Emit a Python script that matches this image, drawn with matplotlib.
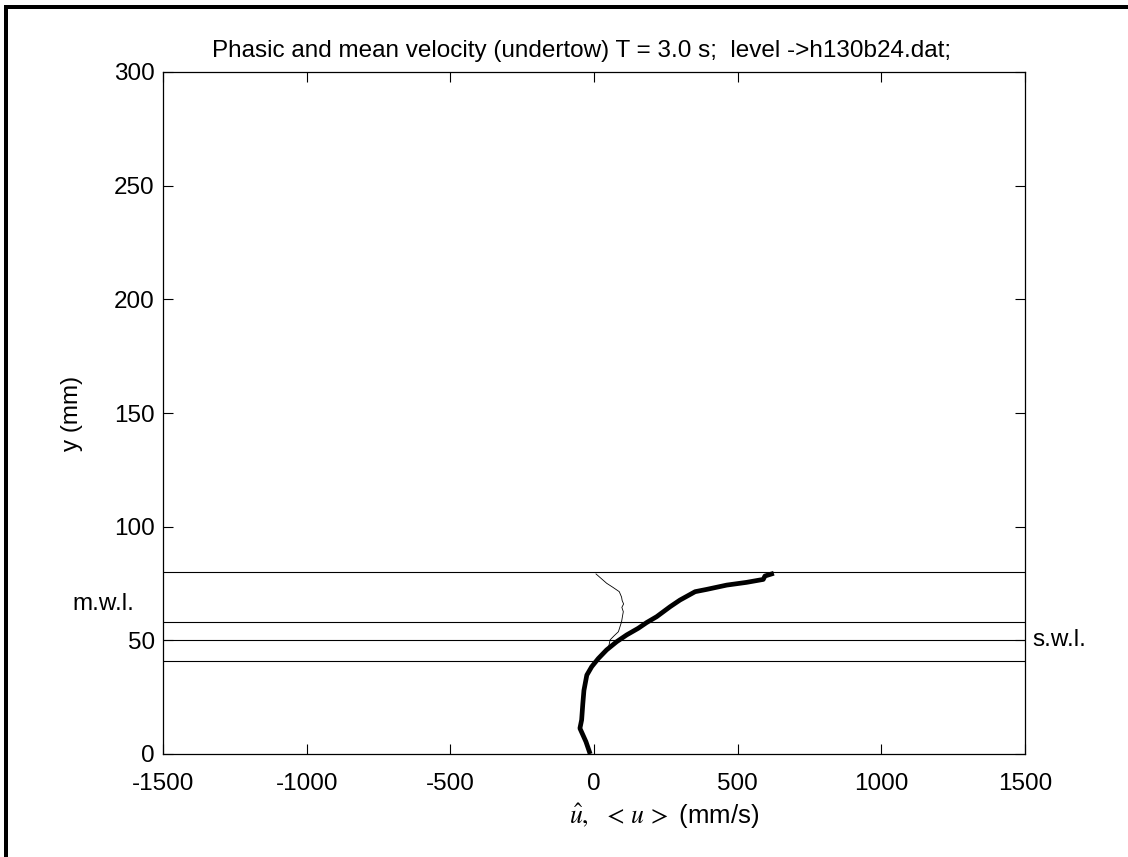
import matplotlib
matplotlib.use("Agg")
import matplotlib.pyplot as plt
from matplotlib.patches import Rectangle

plt.rcParams['font.family'] = ['Liberation Sans', 'DejaVu Sans']
plt.rcParams['mathtext.fontset'] = 'stix'
plt.rcParams['axes.unicode_minus'] = False

# Mean (undertow) velocity profile - thick line
thick_u = [-16, -28, -49, -43, -39, -35, -25, -8, 15, 44, 79, 114, 154, 183,
           218, 265, 299, 352, 392, 462, 531, 589, 595, 618]
thick_y = [1, 5.4, 11.3, 15, 22, 28, 34.7, 38.4, 42, 45.8, 49.4, 52.4, 55.3,
           57.8, 60.4, 64.8, 67.7, 71.4, 72.4, 74.3, 75.5, 76.8, 78.3, 79.2]

# Phasic velocity profile - thin line
thin_u = [35, 50, 56, 70, 85, 96, 99, 102, 97, 103, 98, 96, 88, 66, 44, 7]
thin_y = [44, 46.5, 50.2, 52, 53.8, 58.2, 60.5, 62.6, 64.5, 66, 67.5, 69, 71.4, 73.3, 75.1, 79.2]

# Reference levels (mm)
levels = [80, 58, 50, 41]

xticks = [-1500, -1000, -500, 0, 500, 1000, 1500]
yticks = [0, 50, 100, 150, 200, 250, 300]

FS = 17.5

fig = plt.figure(figsize=(11.28, 8.57), dpi=100)
ax = fig.add_axes([163/1128, 103/857, 862/1128, 682/857])

for lv in levels:
    ax.axhline(lv, color='black', lw=0.8)
ax.plot(thin_u, thin_y, color='black', lw=0.6)
ax.plot(thick_u, thick_y, color='black', lw=3.4)

ax.set_xlim(-1500, 1500)
ax.set_ylim(0, 300)
ax.set_xticks(xticks)
ax.set_yticks(yticks)
ax.tick_params(direction='in', top=True, right=True, labelsize=FS, length=7, width=0.8)
ax.tick_params(axis='x', pad=14)
ax.tick_params(axis='y', pad=6)
for s in ax.spines.values():
    s.set_linewidth(0.9)

ax.set_title('Phasic and mean velocity (undertow) T = 3.0 s;  level ->h130b24.dat;',
             fontsize=FS, pad=11, x=0.486)
ax.set_xlabel(r'$\hat{u},\;\;<\,u\,>$ (mm/s)', fontsize=FS + 1)
ax.xaxis.set_label_coords(0.581, -0.069)
ax.set_ylabel('y (mm)', fontsize=FS, labelpad=22)

ax.text(-1815, 66, 'm.w.l.', fontsize=FS, ha='left', va='center', clip_on=False)
ax.text(1525, 50, 's.w.l.', fontsize=FS, ha='left', va='center', clip_on=False)

# figure frame bars (top and left)
fig.add_artist(Rectangle((4/1128, 0), 4/1128, 852/857, transform=fig.transFigure,
                         color='black', lw=0))
fig.add_artist(Rectangle((4/1128, 848/857), 1 - 4/1128, 4/857, transform=fig.transFigure,
                         color='black', lw=0))

fig.savefig('out.png', dpi=100, facecolor='white')
